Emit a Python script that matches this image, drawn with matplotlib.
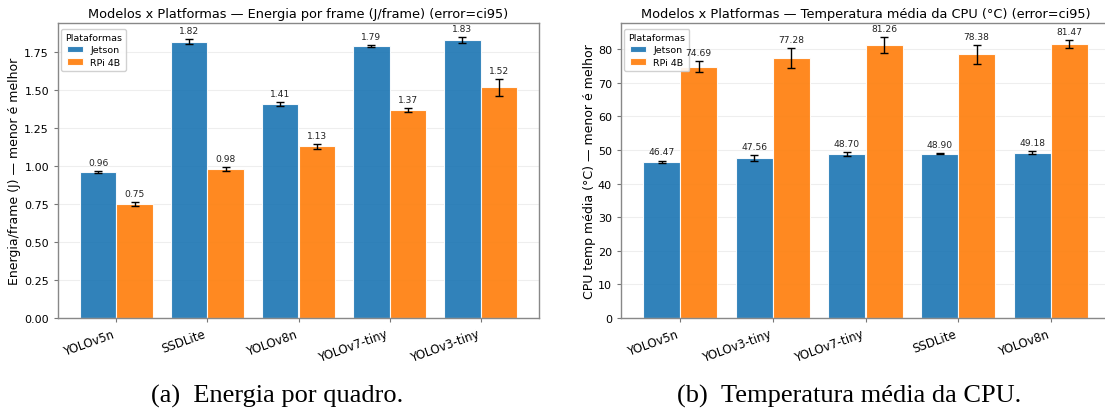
import matplotlib
matplotlib.use("Agg")
import matplotlib.pyplot as plt
import numpy as np

platforms = ["Jetson", "RPi 4B"]
colors = ["#1f77b4", "#ff7f0e"]

models_energy = ["YOLOv5n", "SSDLite", "YOLOv8n", "YOLOv7-tiny", "YOLOv3-tiny"]
energy_jetson = [0.96, 1.82, 1.41, 1.79, 1.83]
energy_rpi = [0.75, 0.98, 1.13, 1.37, 1.52]
energy_jetson_err = [0.005, 0.014, 0.013, 0.005, 0.02]
energy_rpi_err = [0.015, 0.014, 0.017, 0.013, 0.055]

models_temp = ["YOLOv5n", "YOLOv3-tiny", "YOLOv7-tiny", "SSDLite", "YOLOv8n"]
temp_jetson = [46.47, 47.56, 48.70, 48.90, 49.18]
temp_rpi = [74.69, 77.28, 81.26, 78.38, 81.47]
temp_jetson_err = [0.35, 0.95, 0.6, 0.2, 0.35]
temp_rpi_err = [1.6, 2.9, 2.3, 2.7, 1.25]

titles = ["Modelos x Platformas — Energia por frame (J/frame) (error=ci95)",
          "Modelos x Platformas — Temperatura média da CPU (°C) (error=ci95)"]
ylabels = ["Energia/frame (J) — menor é melhor",
           "CPU temp média (°C) — menor é melhor"]
captions = ["(a)\u2002Energia por quadro.", "(b)\u2002Temperatura média da CPU."]

W, H = 1105, 414
fig = plt.figure(figsize=(W / 100, H / 100), dpi=100)

def ax_rect(x0, x1, y0, y1):
    return [x0 / W, (H - y1) / H, (x1 - x0) / W, (y1 - y0) / H]

ax1 = fig.add_axes(ax_rect(58, 539, 24, 319))
ax2 = fig.add_axes(ax_rect(621, 1110, 24, 319))

def draw(ax, models, vj, vr, ej, er, fmt, title, ylabel):
    x = np.arange(len(models))
    w = 0.4
    for off, vals, errs, col, lab in [(-w / 2, vj, ej, colors[0], platforms[0]),
                                      (w / 2, vr, er, colors[1], platforms[1])]:
        ax.bar(x + off, vals, w, color=col, alpha=0.92, edgecolor="white",
               linewidth=0.8, label=lab, zorder=2)
        ax.errorbar(x + off, vals, yerr=errs, fmt="none", ecolor="black",
                    elinewidth=1.0, capsize=3, capthick=1.0, zorder=3)
        for xi, v, e in zip(x + off, vals, errs):
            ax.annotate(fmt.format(v), (xi, v + e), xytext=(0, 3),
                        textcoords="offset points", ha="center", va="bottom",
                        fontsize=6.6, color="#222222", zorder=6)
    ax.set_xticks(x)
    ax.set_xticklabels(models, rotation=20, ha="right", fontsize=8.5)
    ax.tick_params(axis="y", labelsize=8, length=3, color="#777777")
    ax.tick_params(axis="x", length=3, color="#777777")
    ax.set_ylabel(ylabel, fontsize=9)
    ax.set_title(title, fontsize=9.3, pad=4)
    ax.grid(axis="y", color="#eeeeee", linewidth=0.8, zorder=0)
    ax.set_axisbelow(True)
    for s in ax.spines.values():
        s.set_color("#888888")
        s.set_linewidth(1.0)
    leg = ax.legend(title="Plataformas", loc="upper left", bbox_to_anchor=(0.006, 0.98),
                    borderaxespad=0, fontsize=6.8, title_fontsize=6.8,
                    handlelength=1.7, labelspacing=0.35, borderpad=0.45,
                    framealpha=0.9)
    leg.get_frame().set_edgecolor("#cccccc")
    leg.set_zorder(5)

draw(ax1, models_energy, energy_jetson, energy_rpi, energy_jetson_err, energy_rpi_err,
     "{:.2f}", titles[0], ylabels[0])
draw(ax2, models_temp, temp_jetson, temp_rpi, temp_jetson_err, temp_rpi_err,
     "{:.2f}", titles[1], ylabels[1])
ax1.yaxis.set_label_coords((21 - 58) / 481, 0.5)
ax2.yaxis.set_label_coords((596 - 621) / 489, 0.5)

fig.text(277 / W, 1 - 403 / H, captions[0], ha="center", va="baseline",
         fontsize=19, family="Liberation Serif")
fig.text(849 / W, 1 - 403 / H, captions[1], ha="center", va="baseline",
         fontsize=19, family="Liberation Serif")

fig.savefig("out.png", dpi=100)
